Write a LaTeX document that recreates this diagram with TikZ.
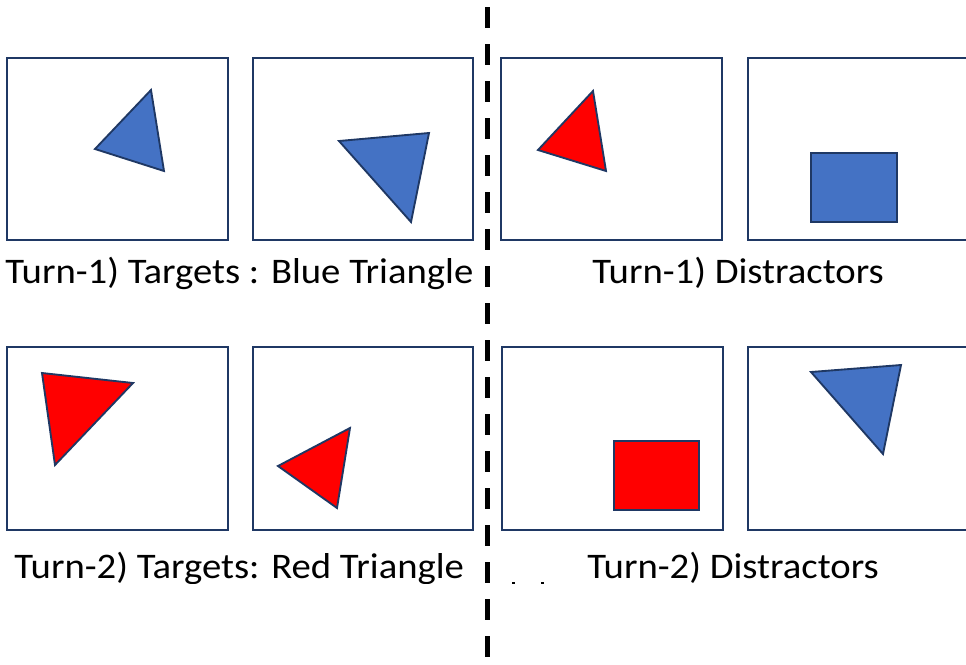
\documentclass[tikz,border=0pt]{standalone}
\usepackage{fontspec}
\setmainfont{Carlito}
\definecolor{navy}{HTML}{1F3864}
\definecolor{tblue}{HTML}{4472C4}
\definecolor{tred}{HTML}{FF0000}
\begin{document}
\begin{tikzpicture}[x=0.75pt,y=-0.75pt,
 panel/.style={draw=navy,line width=1.8pt,fill=white},
 shapeb/.style={draw=navy,line width=1.4pt,fill=tblue},
 shaper/.style={draw=navy,line width=1.4pt,fill=tred},
 lab/.style={font=\fontsize{27}{32}\selectfont,anchor=base west,inner sep=0pt,xscale=1.075},
 divider/.style={line width=3.75pt,dash pattern=on 15.75pt off 12pt}]
\useasboundingbox (0,0) rectangle (966,664);
\clip (0,0) rectangle (966,664);
% row 1 panels
\draw[panel] (7,58) rectangle (228,240);
\draw[panel] (253,58) rectangle (473,240);
\draw[panel] (501,58) rectangle (722,240);
\draw[panel] (748,58) rectangle (990,240);
% row 2 panels
\draw[panel] (7,347) rectangle (228,530);
\draw[panel] (253,347) rectangle (473,530);
\draw[panel] (502,347) rectangle (723,530);
\draw[panel] (748,347) rectangle (990,530);
% row 1 shapes
\draw[shapeb] (151,90) -- (95,149) -- (164,171) -- cycle;
\draw[shapeb] (339,141) -- (429,133) -- (411,222) -- cycle;
\draw[shaper] (593,91) -- (538,150) -- (606,171) -- cycle;
\draw[shapeb] (811,153) rectangle (897,222);
% row 2 shapes
\draw[shaper] (42,373) -- (133,383) -- (55,465) -- cycle;
\draw[shaper] (278,466) -- (350,428) -- (337,508) -- cycle;
\draw[shaper] (614,441) rectangle (699,510);
\draw[shapeb] (811,372) -- (901,365) -- (883,454) -- cycle;
% labels
\node[lab] (t1) at (5,283) {Turn-1) Targets : Blue Triangle};
\node[lab] (d1) at (592,283) {Turn-1) Distractors};
\begin{scope}
\clip (0,0) rectangle (966,583);
\node[lab] (t2) at (14,578) {Turn-2) Targets: Red Triangle};
\node[lab] (d2) at (587,578) {Turn-2) Distractors};
\end{scope}
\fill (512,582) rectangle (515,584);
\fill (541,582) rectangle (544,584);
% divider
\draw[divider] (487,7) -- (487,660);
\end{tikzpicture}
\end{document}
